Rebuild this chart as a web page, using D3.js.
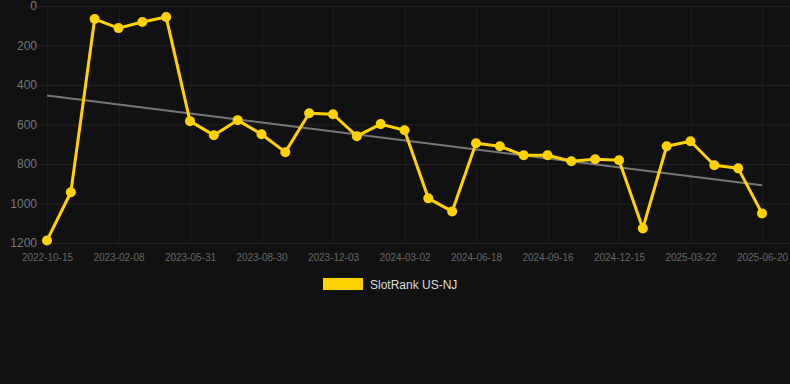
<!DOCTYPE html>
<html>
<head>
<meta charset="utf-8">
<script src="https://cdn.jsdelivr.net/npm/d3@7"></script>
<style>
  body { margin: 0; background: #111111; }
  svg { display: block; font-family: "Liberation Sans", Arial, sans-serif; }
</style>
</head>
<body>
<div id="chart"></div>
<script>
// Rank per sample (31 samples), lower is better
const rankValues = [1187, 943, 66, 112, 81, 56, 583, 654, 578, 649, 740, 543, 548, 659, 598, 629,
  974, 1040, 695, 710, 756, 756, 786, 776, 781, 1126, 710, 685, 806, 822, 1050];

// Labels shown on every 3rd sample
const tickLabels = ["2022-10-15", "2023-02-08", "2023-05-31", "2023-08-30", "2023-12-03", "2024-03-02",
  "2024-06-18", "2024-09-16", "2024-12-15", "2025-03-22", "2025-06-20"];

const yTicks = [0, 200, 400, 600, 800, 1000, 1200];
const seriesName = "SlotRank US-NJ";

const width = 790;
const height = 384;
const gridLeft = 38, gridRight = 790;
const yellow = "#ffd200";

const svg = d3.select("#chart")
  .append("svg")
  .attr("width", width)
  .attr("height", height);

svg.append("rect").attr("width", width).attr("height", height).attr("fill", "#111111");

// Scales
const x = d3.scalePoint()
  .domain(d3.range(rankValues.length))
  .range([47, 762]);

const y = d3.scaleLinear()
  .domain([0, 1200])
  .range([6, 243]);

// Horizontal grid
svg.append("g")
  .selectAll("line")
  .data(yTicks)
  .join("line")
  .attr("x1", gridLeft)
  .attr("x2", gridRight)
  .attr("y1", d => y(d) + 0.5)
  .attr("y2", d => y(d) + 0.5)
  .attr("stroke", "#222")
  .attr("stroke-width", 1);

// Vertical grid on labelled samples
const tickIdx = tickLabels.map((_, i) => i * 3);
svg.append("g")
  .selectAll("line")
  .data(tickIdx)
  .join("line")
  .attr("x1", d => Math.round(x(d)) + 0.5)
  .attr("x2", d => Math.round(x(d)) + 0.5)
  .attr("y1", y(0))
  .attr("y2", y(1200))
  .attr("stroke", "#1d1d1d")
  .attr("stroke-width", 1);

// Y axis labels
const yAxis = svg.append("g")
  .attr("transform", `translate(${gridLeft - 1},0)`)
  .call(d3.axisLeft(y).tickValues(yTicks).tickFormat(d3.format("d")).tickSize(0).tickPadding(0));
yAxis.select(".domain").remove();
yAxis.selectAll("text")
  .attr("fill", "#777")
  .style("font-size", "12px")
  .style("font-family", "Liberation Sans, Arial, sans-serif");

// X axis labels
const xAxis = svg.append("g")
  .attr("transform", `translate(0,${y(1200)})`)
  .call(d3.axisBottom(x).tickValues(tickIdx).tickFormat((d, i) => tickLabels[i]).tickSize(0).tickPadding(11));
xAxis.select(".domain").remove();
xAxis.selectAll("text")
  .attr("fill", "#666")
  .style("font-size", "10px")
  .style("font-family", "Liberation Sans, Arial, sans-serif");

// Trend line (least squares over sample index)
const n = rankValues.length;
const mx = d3.mean(d3.range(n));
const my = d3.mean(rankValues);
const slope = d3.sum(rankValues, (v, i) => (i - mx) * (v - my)) / d3.sum(d3.range(n), i => (i - mx) ** 2);
const icpt = my - slope * mx;
svg.append("line")
  .attr("x1", x(0))
  .attr("x2", x(n - 1))
  .attr("y1", y(icpt))
  .attr("y2", y(icpt + slope * (n - 1)))
  .attr("stroke", "#777")
  .attr("stroke-width", 2);

// Series line
svg.append("path")
  .datum(rankValues)
  .attr("fill", "none")
  .attr("stroke", yellow)
  .attr("stroke-width", 3)
  .attr("stroke-linejoin", "round")
  .attr("d", d3.line().x((d, i) => x(i)).y(d => y(d)));

// Points
svg.append("g")
  .selectAll("circle")
  .data(rankValues)
  .join("circle")
  .attr("cx", (d, i) => x(i))
  .attr("cy", d => y(d))
  .attr("r", 5)
  .attr("fill", yellow);

// Legend
svg.append("rect")
  .attr("x", 323)
  .attr("y", 278)
  .attr("width", 40)
  .attr("height", 12)
  .attr("fill", yellow);
svg.append("text")
  .attr("x", 370)
  .attr("y", 288.5)
  .attr("fill", "#ddd")
  .style("font-size", "12px")
  .text(seriesName);
</script>
</body>
</html>
